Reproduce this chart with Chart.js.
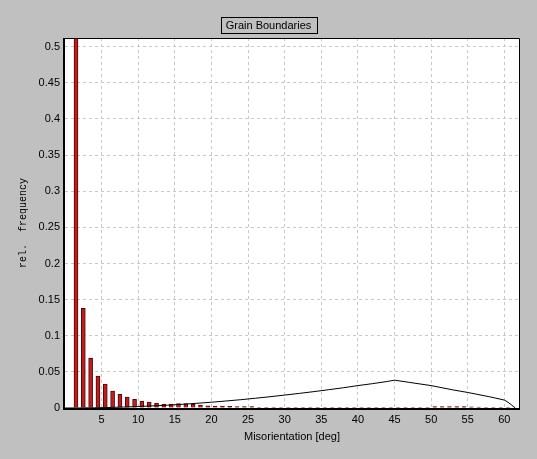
<!DOCTYPE html>
<html>
<head>
<meta charset="utf-8">
<script src="https://cdn.jsdelivr.net/npm/chart.js@4/dist/chart.umd.min.js"></script>
<style>
  body { margin: 0; background: #c0c0c0; }
  canvas { display: block; }
</style>
</head>
<body>
<canvas id="myChart" width="537" height="459"></canvas>
<script>
// bin centres (deg) and measured relative frequency
const binCenters = [
  1.5, 2.5, 3.5, 4.5, 5.5, 6.5, 7.5, 8.5, 9.5, 10.5,
  11.5, 12.5, 13.5, 14.5, 15.5, 16.5, 17.5, 18.5, 19.5, 20.5,
  21.5, 22.5, 23.5, 24.5, 25.5, 26.5, 27.5, 28.5, 29.5, 30.5,
  31.5, 32.5, 33.5, 34.5, 35.5, 36.5, 37.5, 38.5, 39.5, 40.5,
  41.5, 42.5, 43.5, 44.5, 45.5, 46.5, 47.5, 48.5, 49.5, 50.5,
  51.5, 52.5, 53.5, 54.5, 55.5, 56.5, 57.5, 58.5, 59.5, 60.5
]
const measured = [
  0.6, 0.138, 0.069, 0.044, 0.033, 0.0235, 0.019, 0.015, 0.012, 0.0097,
  0.0083, 0.0065, 0.0055, 0.0055, 0.006, 0.006, 0.0055, 0.004, 0.003, 0.0028,
  0.0025, 0.0022, 0.002, 0.002, 0.0018, 0.0008, 0.0008, 0.0008, 0.0008, 0.0008,
  0.0008, 0.0008, 0.0008, 0.0008, 0.0008, 0.0008, 0.0008, 0.0008, 0.0008, 0.0008,
  0.0008, 0.0008, 0.0008, 0.0008, 0.0008, 0.0008, 0.0008, 0.0008, 0.0008, 0.0018,
  0.002, 0.002, 0.0018, 0.0018, 0.0015, 0.0012, 0.0008, 0.0008, 0.0008, 0.0008
]

// random (uncorrelated) distribution curve
const randomAngles = [
  0, 2, 4, 6, 8, 10, 12, 14, 16, 18, 20, 22, 24, 26, 28, 30,
  32, 34, 36, 38, 40, 42, 44, 45, 47, 50, 53, 55, 58, 60, 60.5, 61, 61.5
]
const randomFreq = [
  0, 0.0001, 0.0003, 0.0007, 0.0013, 0.002, 0.0029, 0.0039, 0.0051, 0.0065,
  0.008, 0.0097, 0.0115, 0.0135, 0.0156, 0.0179, 0.0202, 0.0227, 0.0253, 0.028,
  0.031, 0.0337, 0.0367, 0.0385, 0.0355, 0.031, 0.025, 0.0215, 0.0155, 0.011,
  0.008, 0.004, 0
]

const xTicks = [5, 10, 15, 20, 25, 30, 35, 40, 45, 50, 55, 60]
const yTicks = [0, 0.05, 0.1, 0.15, 0.2, 0.25, 0.3, 0.35, 0.4, 0.45, 0.5]

const chartTitle = 'Grain Boundaries'

const framePlugin = {
  id: 'frame',
  beforeDraw(chart) {
    // white plot area
    const a = chart.chartArea
    const c = chart.ctx
    c.save()
    c.fillStyle = '#fff'
    c.fillRect(a.left, a.top, a.right - a.left, a.bottom - a.top)
    c.restore()
  },
  afterDatasetsDraw(chart) {
    const a = chart.chartArea
    const c = chart.ctx
    c.save()
    c.strokeStyle = '#000'
    c.lineWidth = 1
    c.beginPath()
    c.moveTo(a.left, a.top + 0.5)
    c.lineTo(a.right + 0.5, a.top + 0.5)
    c.lineTo(a.right + 0.5, a.bottom)
    c.stroke()
    c.lineWidth = 2
    c.beginPath()
    c.moveTo(a.left - 1, a.top)
    c.lineTo(a.left - 1, a.bottom + 1)
    c.lineTo(a.right + 1, a.bottom + 1)
    c.stroke()
    c.restore()
  },
  afterDraw(chart) {
    const c = chart.ctx
    c.save()
    c.font = '11px "Liberation Sans", Arial, sans-serif'
    c.textAlign = 'center'
    c.textBaseline = 'middle'
    const w = c.measureText(chartTitle).width
    const cx = 268.5, cy = 25
    c.strokeStyle = '#000'
    c.lineWidth = 1
    c.strokeRect(Math.round(cx - w / 2 - 5) + 0.5, 17.5, Math.round(w + 10), 16)
    c.fillStyle = '#000'
    c.fillText(chartTitle, cx, cy + 1)
    c.restore()
  }
}

const ctx = document.getElementById('myChart').getContext('2d')
const myChart = new Chart(ctx, {
  type: 'bar',
  data: {
    datasets: [{
      type: 'line',
      data: randomAngles.map((x, i) => ({ x: x, y: randomFreq[i] })),
      borderColor: '#000',
      borderWidth: 1,
      pointRadius: 0,
      tension: 0,
      order: 0
    }, {
      type: 'bar',
      data: binCenters.map((x, i) => ({ x: x, y: measured[i] })),
      backgroundColor: '#c41c1c',
      borderColor: '#4a0a0a',
      borderWidth: 1,
      barThickness: 4,
      order: 1
    }]
  },
  options: {
    responsive: false,
    devicePixelRatio: 1,
    animation: false,
    layout: { padding: { top: 38, right: 18, left: 0, bottom: 0 } },
    plugins: {
      legend: { display: false },
      tooltip: { enabled: false }
    },
    scales: {
      x: {
        type: 'linear',
        min: 0,
        max: 62,
        offset: false,
        afterBuildTicks: s => { s.ticks = xTicks.map(v => ({ value: v })) },
        afterFit: s => { s.height = 51 },
        grid: { color: '#c8c8c8', tickLength: 4, offset: false },
        border: { display: false, dash: [3, 3] },
        ticks: { color: '#000', padding: 1, maxRotation: 0,
          font: { family: '"Liberation Sans", Arial, sans-serif', size: 11 } },
        title: {
          display: true, text: 'Misorientation [deg]', color: '#000',
          padding: { top: 0, bottom: 15 },
          font: { family: '"Liberation Sans", Arial, sans-serif', size: 11 }
        }
      },
      y: {
        min: 0,
        max: 0.512,
        afterBuildTicks: s => { s.ticks = yTicks.map(v => ({ value: v })) },
        afterFit: s => { s.width = 65 },
        grid: { color: '#c8c8c8', tickLength: 4 },
        border: { display: false, dash: [3, 3] },
        ticks: { color: '#000', padding: 1,
          callback: v => String(Math.round(v * 100) / 100),
          font: { family: '"Liberation Sans", Arial, sans-serif', size: 11 } },
        title: {
          display: true, text: 'rel.  frequency', color: '#000',
          padding: { top: 17, bottom: 0 },
          font: { family: '"Liberation Mono", monospace', size: 10 }
        }
      }
    }
  },
  plugins: [framePlugin]
})
</script>
</body>
</html>
